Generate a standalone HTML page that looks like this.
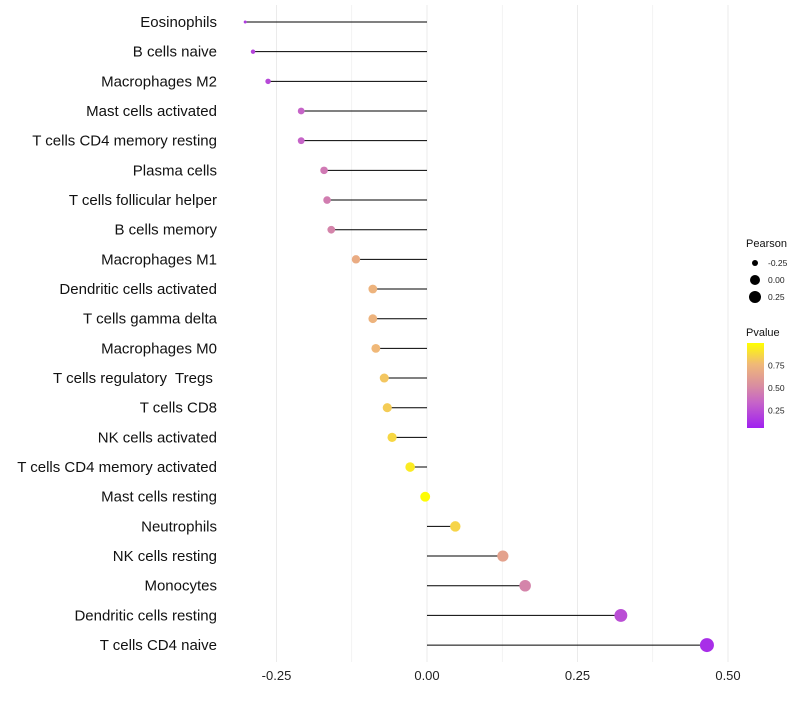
<!DOCTYPE html>
<html><head><meta charset="utf-8"><style>
body{margin:0;background:#fff;font-family:"Liberation Sans",sans-serif}
</style></head><body>
<svg id="c" width="800" height="700" xmlns="http://www.w3.org/2000/svg">
<defs><linearGradient id="pg" x1="0" y1="1" x2="0" y2="0">
<stop offset="0" stop-color="#a020f0"/><stop offset="0.3" stop-color="#c664c8"/><stop offset="0.5" stop-color="#d98ea0"/><stop offset="0.75" stop-color="#f0b878"/><stop offset="1" stop-color="#ffff00"/></linearGradient></defs>
</svg>
<script>
const categories=["Eosinophils","B cells naive","Macrophages M2","Mast cells activated","T cells CD4 memory resting","Plasma cells","T cells follicular helper","B cells memory","Macrophages M1","Dendritic cells activated","T cells gamma delta","Macrophages M0","T cells regulatory  Tregs ","T cells CD8","NK cells activated","T cells CD4 memory activated","Mast cells resting","Neutrophils","NK cells resting","Monocytes","Dendritic cells resting","T cells CD4 naive"];
const pearson=[-0.302,-0.289,-0.264,-0.209,-0.209,-0.171,-0.166,-0.159,-0.118,-0.090,-0.090,-0.085,-0.071,-0.066,-0.058,-0.028,-0.003,0.047,0.126,0.163,0.322,0.465];
const pvalue=[0.15,0.18,0.2,0.3,0.3,0.4,0.42,0.45,0.68,0.72,0.72,0.75,0.8,0.82,0.86,0.93,0.99,0.85,0.62,0.45,0.22,0.1];
const xTicks=[-0.25,0,0.25,0.5];
const xTickLabels=["-0.25","0.00","0.25","0.50"];
const NS="http://www.w3.org/2000/svg";
const svg=document.getElementById('c');
const x=v=>427+v*602;
const y=i=>22+i*29.67;
function mk(t,a,p){const e=document.createElementNS(NS,t);for(const k in a)e.setAttribute(k,a[k]);(p||svg).appendChild(e);return e;}
const stops=[[0.05,[160,32,240]],[0.3,[198,100,200]],[0.5,[217,142,160]],[0.75,[240,184,120]],[1,[255,255,0]]];
function col(p){for(let i=1;i<stops.length;i++){if(p<=stops[i][0]||i==stops.length-1){const a=stops[i-1],b=stops[i];let t=(p-a[0])/(b[0]-a[0]);t=Math.max(0,Math.min(1,t));return 'rgb('+a[1].map((c,j)=>Math.round(c+(b[1][j]-c)*t)).join(',')+')';}}}
const rad=v=>1.5+5.5*Math.sqrt(Math.max(0,(v+0.302)/0.767));
[-0.25,-0.125,0,0.125,0.25,0.375,0.5].forEach(v=>{const g=mk('line',{x1:x(v),x2:x(v),y1:5,y2:662,stroke:'#ebebeb','stroke-width':v*8%2==0?1:0.6});});
xTicks.forEach((v,i)=>{const t=mk('text',{x:x(v),y:680,'text-anchor':'middle','font-size':13,fill:'#222'});t.textContent=xTickLabels[i];});
categories.forEach((c,i)=>{
const t=mk('text',{x:217,y:y(i)+5,'text-anchor':'end','font-size':15,fill:'#111','xml:space':'preserve'});t.style.whiteSpace='pre';t.textContent=c;

const l=mk('line',{x1:x(0),x2:x(pearson[i]),y1:y(i),y2:y(i),stroke:'#000','stroke-width':1});

const d=mk('circle',{cx:x(pearson[i]),cy:y(i),r:rad(pearson[i]),fill:col(pvalue[i])});

});
const lt=mk('text',{x:746,y:247,'font-size':11,fill:'#111'});lt.textContent='Pearson';
[-0.25,0,0.25].forEach((v,i)=>{const cy=263+i*17;const d=mk('circle',{cx:755,cy:cy,r:[3,5,6][i],fill:'#000'});
const t=mk('text',{x:768,y:cy+3,'font-size':8.5,fill:'#222'});t.textContent=["-0.25","0.00","0.25"][i];});
const pt=mk('text',{x:746,y:336,'font-size':11,fill:'#111'});pt.textContent='Pvalue';
const bar=mk('rect',{x:747,y:343,width:17,height:85,fill:'url(#pg)'});
[0.75,0.5,0.25].forEach(v=>{const cy=343+(1-v)*90;const t=mk('text',{x:768,y:cy+3,'font-size':8.5,fill:'#222'});t.textContent=v.toFixed(2);});
</script>
</body></html>
